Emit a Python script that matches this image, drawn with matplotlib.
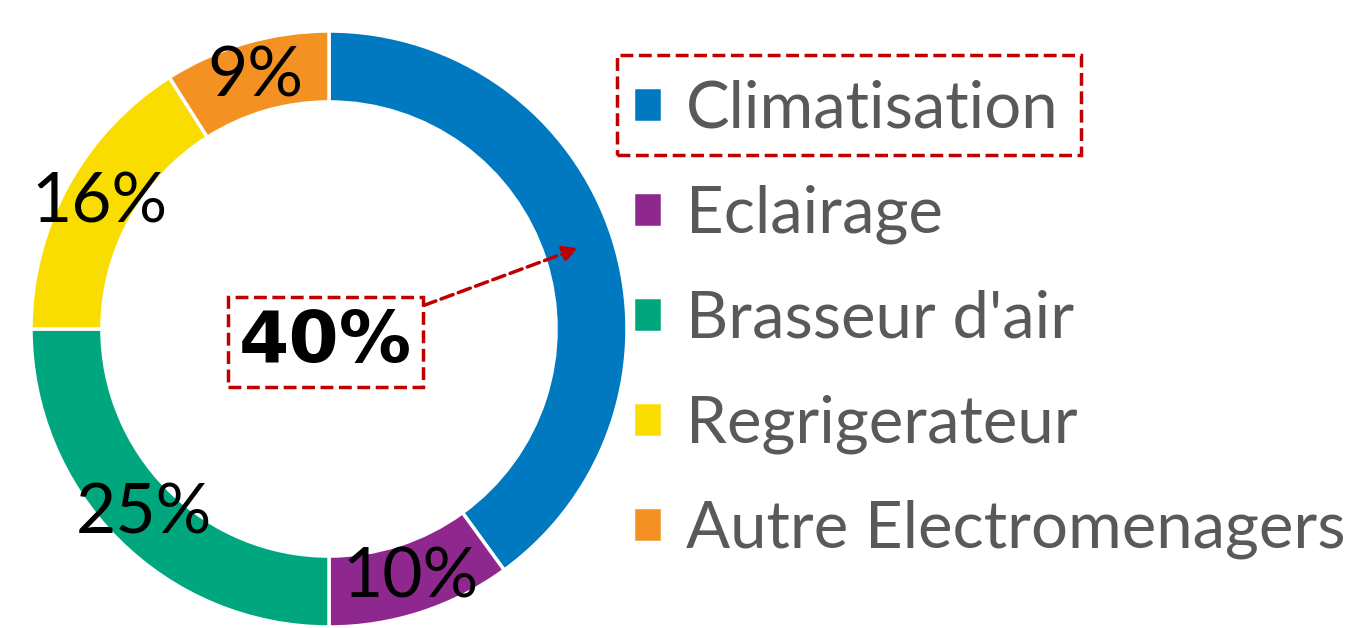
import matplotlib
matplotlib.use("Agg")
import matplotlib.pyplot as plt
import numpy as np
from matplotlib.patches import Rectangle

categories = ["Climatisation", "Eclairage", "Brasseur d'air", "Regrigerateur", "Autre Electromenagers"]
values = [40, 10, 25, 16, 9]
colors = ["#0079C1", "#8E288E", "#00A77E", "#FADD00", "#F39222"]

RED = "#C00000"
FONT = "Lato"

fig = plt.figure(figsize=(13.61, 6.28), dpi=100)
ax = fig.add_axes([31 / 1361, 1 / 628, 596 / 1361, 596 / 628])

wedges, _ = ax.pie(values, colors=colors, startangle=90, counterclock=False, radius=1,
                   wedgeprops=dict(width=0.238, edgecolor="white", linewidth=2.5))
ax.set_xlim(-1, 1)
ax.set_ylim(-1, 1)
ax.set_aspect("equal")

# labels on the ring, the first one is pulled to the middle
total = sum(values)
cum = np.cumsum([0] + values)
r_lab = 0.88
for i, v in enumerate(values):
    mid = (cum[i] + v / 2) / total * 2 * np.pi
    x, y = r_lab * np.sin(mid), r_lab * np.cos(mid)
    if i == 0:
        ax.annotate(f"{v}%", xy=(x, y), xytext=(-0.013, -0.044), textcoords="data",
                    ha="center", va="center", fontsize=52, fontweight="bold",
                    family="DejaVu Sans", color="black",
                    bbox=dict(boxstyle="square,pad=0.15", fc="none", ec=RED, ls="--", lw=2.5),
                    arrowprops=dict(arrowstyle="-|>", color=RED, ls="--", lw=2.5,
                                    mutation_scale=22, shrinkA=0, shrinkB=0))
    else:
        ax.text(x, y, f"{v}%", ha="center", va="center", fontsize=50,
                family=FONT, color="black")

leg = fig.legend(wedges, categories, loc="upper left", bbox_to_anchor=(633 / 1361, 1 - 80 / 628),
                 frameon=False, prop=dict(family=FONT, size=47),
                 handlelength=0.45, handleheight=0.45, handletextpad=0.36,
                 labelspacing=0.70, borderpad=0, borderaxespad=0)
for t in leg.get_texts():
    t.set_color("#595959")

# dashed highlight around the first legend entry
fig.canvas.draw()
r = fig.canvas.get_renderer()
h_ext = leg.legend_handles[0].get_window_extent(r)
t_ext = leg.get_texts()[0].get_window_extent(r)
x0 = h_ext.x0 - 16
x1 = t_ext.x1 + 22
yc = (h_ext.y0 + h_ext.y1) / 2
y0 = yc - 50
y1 = yc + 50
inv = fig.transFigure.inverted()
(fx0, fy0), (fx1, fy1) = inv.transform([(x0, y0), (x1, y1)])
fig.patches.append(Rectangle((fx0, fy0), fx1 - fx0, fy1 - fy0, transform=fig.transFigure,
                             fill=False, ec=RED, ls="--", lw=2.5))

fig.savefig("out.png", dpi=100)
